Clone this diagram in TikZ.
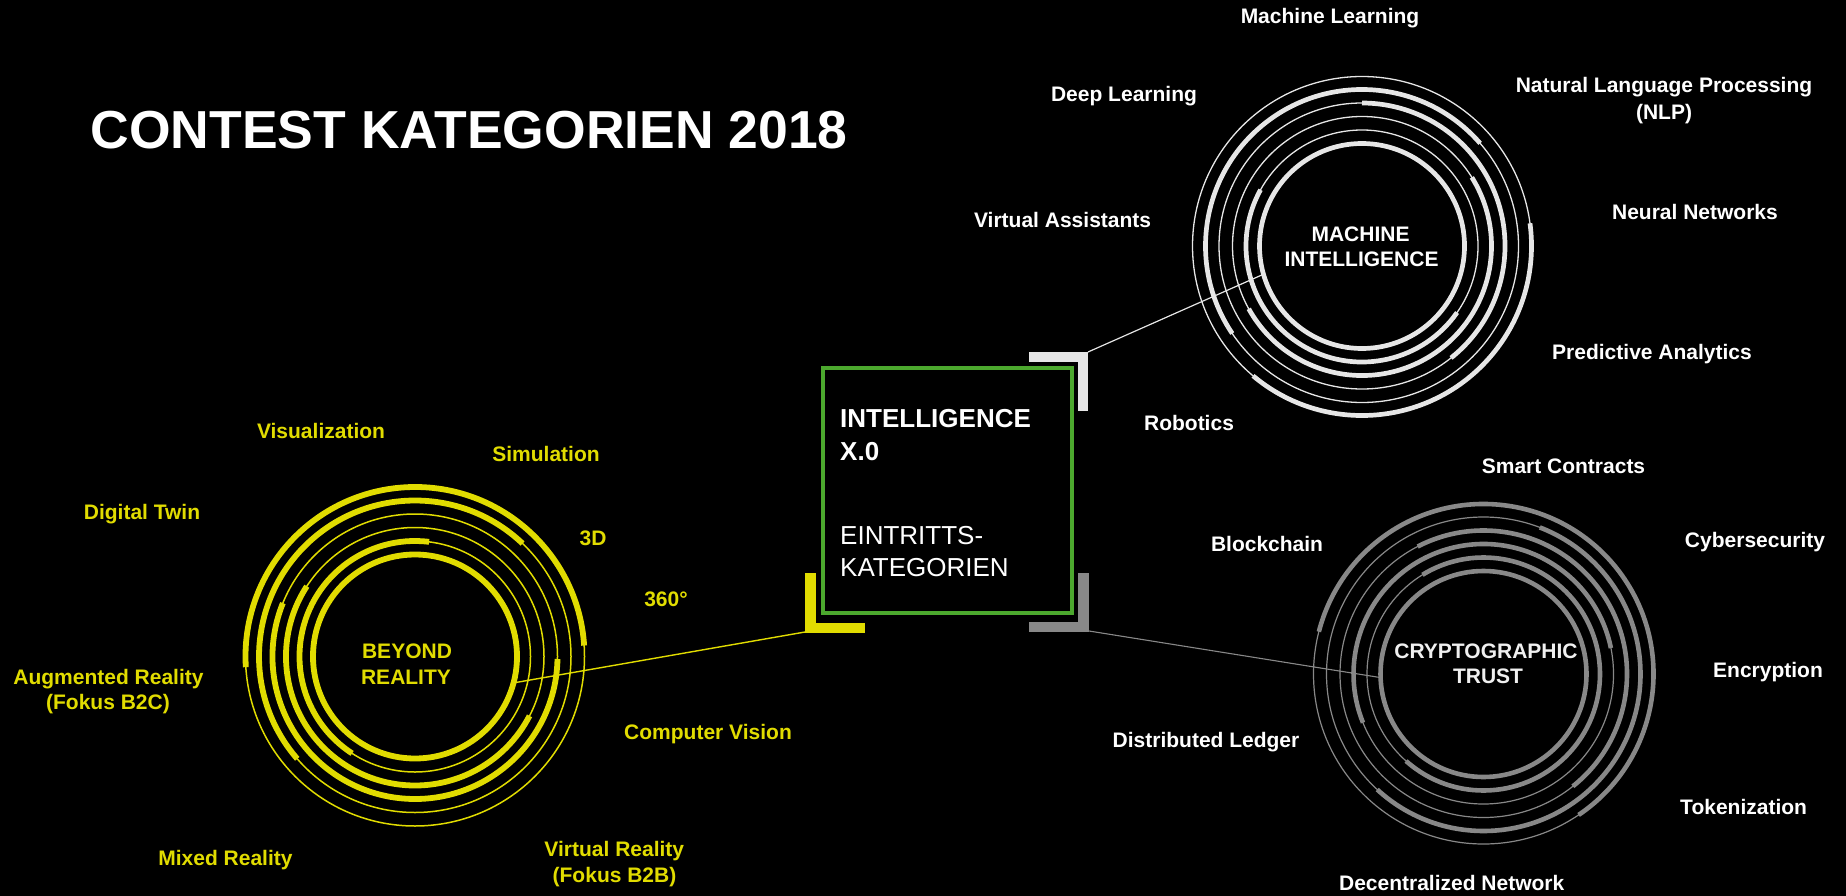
\documentclass[tikz,border=0pt]{standalone}
\usepackage{fontspec}
\setmainfont{Liberation Sans}
\definecolor{ylw}{RGB}{225,220,0}
\definecolor{lgr}{RGB}{230,230,230}
\definecolor{dgr}{RGB}{136,136,136}
\definecolor{grn}{RGB}{76,168,46}
\newcommand\myring[6]{%
  \draw[#5] (#1) circle[radius=#2pt];
  \draw[#6] ([shift={(#3:#2pt)}]#1) arc[start angle=#3, end angle=#4, radius=#2pt];
}
\begin{document}
\begin{tikzpicture}[x=1pt,y=-1pt,
  lbl/.style={font=\bfseries\fontsize{21}{25}\selectfont, inner sep=0pt, outer sep=0pt, text height=15pt, text depth=0pt},
  wl/.style={lbl, text=white},
  yl/.style={lbl, text=ylw},
  cl/.style={lbl, text=white},
  mithin/.style={draw=lgr, line width=1.3pt},
  mithick/.style={draw=lgr, line width=4.7pt},
  ythin/.style={draw=ylw, line width=1.5pt},
  ythick/.style={draw=ylw, line width=5.8pt},
  cthin/.style={draw=dgr, line width=1.2pt},
  cthick/.style={draw=dgr, line width=4.6pt},
  core/.style={circle, minimum size=#1, inner sep=0pt, outer sep=0pt},
  bracket/.style={line width=10.5pt, line join=miter},
  boxtxt/.style={anchor=base west, inner sep=0pt, text=white},
]
\fill[black] (0,0) rectangle (1846,896);
\useasboundingbox (0,0) rectangle (1846,896);

% title
\node[anchor=base west, inner sep=0pt, text=white, font=\bfseries\fontsize{53.5}{60}\selectfont] (title) at (90.5,148.5) {CONTEST KATEGORIEN 2018};

% ---------- Machine Intelligence ----------
\node[core=205pt, draw=lgr, line width=4.7pt] (mi) at (1362,246) {};
\myring{mi.center}{116}{151}{325}{mithin}{mithick}
\myring{mi.center}{129.5}{209}{392}{mithin}{mithick}
\myring{mi.center}{143}{-51.5}{90}{mithin}{mithick}
\myring{mi.center}{156.5}{41}{214}{mithin}{mithick}
\myring{mi.center}{169.5}{230}{367.7}{mithin}{mithick}

% ---------- Beyond Reality ----------
\node[core=204pt, draw=ylw, line width=5.8pt] (br) at (415,656.5) {};
\myring{br.center}{115.5}{83}{237}{ythin}{ythick}
\myring{br.center}{129}{147}{332.6}{ythin}{ythick}
\myring{br.center}{142.5}{158}{359}{ythin}{ythick}
\myring{br.center}{156}{46.4}{221}{ythin}{ythick}
\myring{br.center}{169.5}{3.7}{183.6}{ythin}{ythick}

% ---------- Cryptographic Trust ----------
\node[core=206pt, draw=dgr, line width=4.6pt] (ct) at (1483.5,674) {};
\myring{ct.center}{116.5}{228.3}{481.6}{cthin}{cthick}
\myring{ct.center}{130}{11.5}{202}{cthin}{cthick}
\myring{ct.center}{143.5}{-51.5}{117.3}{cthin}{cthick}
\myring{ct.center}{157}{-132.6}{69}{cthin}{cthick}
\myring{ct.center}{170}{-56}{165.6}{cthin}{cthick}

% ---------- central box ----------
\node[draw=grn, line width=3.5pt, minimum width=249pt, minimum height=245pt, inner sep=0pt] (box) at (947.5,490.5) {};
\node[boxtxt, font=\bfseries\fontsize{26}{30}\selectfont] (bt1) at (840,427) {INTELLIGENCE};
\node[boxtxt, font=\bfseries\fontsize{26}{30}\selectfont] (bt2) at (840,460) {X.0};
\node[boxtxt, font=\fontsize{26}{30}\selectfont] (bt3) at (840,544) {EINTRITTS-};
\node[boxtxt, font=\fontsize{26}{30}\selectfont] (bt4) at (840,576) {KATEGORIEN};

% brackets
\coordinate (trA) at (1029,357);
\coordinate (trB) at (1083,357);
\coordinate (trC) at (1083,411);
\coordinate (trc) at (1088,352);
\draw[bracket, draw=lgr] (trA) -- (trB) -- (trC);
\coordinate (blA) at (810.5,573);
\coordinate (blB) at (810.5,628);
\coordinate (blC) at (865,628);
\coordinate (blc) at (805,632);
\draw[bracket, draw=ylw] (blA) -- (blB) -- (blC);
\coordinate (brA) at (1083.5,573);
\coordinate (brB) at (1083.5,627);
\coordinate (brC) at (1029,627);
\coordinate (brc) at (1089,631);
\draw[bracket, draw=dgr] (brA) -- (brB) -- (brC);

% connectors
\draw[lgr, line width=1.2pt] (trc) -- (mi.196);
\draw[ylw, line width=1.4pt] (blc) -- (br.-15.6);
\draw[dgr, line width=1.1pt] (brc) -- (ct.182.8);

% ---------- labels MI ----------
\node[wl] (l1) at (1330,16) {Machine Learning};
\node[wl] (l2) at (1124,94) {Deep Learning};
\node[wl] (l3) at (1664,85) {Natural Language Processing};
\node[wl] (l3b) at (1664,112) {(NLP)};
\node[wl] (l4) at (1062.6,220) {Virtual Assistants};
\node[wl] (l5) at (1695,211.7) {Neural Networks};
\node[wl] (l6) at (1652,352) {Predictive Analytics};
\node[wl] (l7) at (1189,422.7) {Robotics};
\node[wl] (mt1) at (1360.5,234) {MACHINE};
\node[wl] (mt2) at (1361.5,259) {INTELLIGENCE};

% ---------- labels BR ----------
\node[yl] (y1) at (321,431) {Visualization};
\node[yl] (y2) at (546,454) {Simulation};
\node[yl] (y3) at (142,512) {Digital Twin};
\node[yl] (y4) at (593,538) {3D};
\node[yl] (y5) at (666,599) {360°};
\node[yl] (y6) at (108.5,677) {Augmented Reality};
\node[yl] (y6b) at (108,702) {(Fokus B2C)};
\node[yl] (bt) at (407,651) {BEYOND};
\node[yl] (bt2b) at (406,677) {REALITY};
\node[yl] (y7) at (708,732) {Computer Vision};
\node[yl] (y8) at (225.5,858) {Mixed Reality};
\node[yl] (y9) at (614.3,849) {Virtual Reality};
\node[yl] (y9b) at (614.5,875) {(Fokus B2B)};

% ---------- labels CT ----------
\node[cl] (c1) at (1563.5,466) {Smart Contracts};
\node[cl] (c2) at (1267,544) {Blockchain};
\node[cl] (c3) at (1755,540) {Cybersecurity};
\node[cl] (c4) at (1768,670) {Encryption};
\node[cl] (c5) at (1206,740) {Distributed Ledger};
\node[cl] (c6) at (1743.6,806.5) {Tokenization};
\node[cl] (c7) at (1451.7,883) {Decentralized Network};
\node[lbl, text=white!94!black] (ctt1) at (1486,651) {CRYPTOGRAPHIC};
\node[lbl, text=white!94!black] (ctt2) at (1488,676) {TRUST};
\end{tikzpicture}
\end{document}
